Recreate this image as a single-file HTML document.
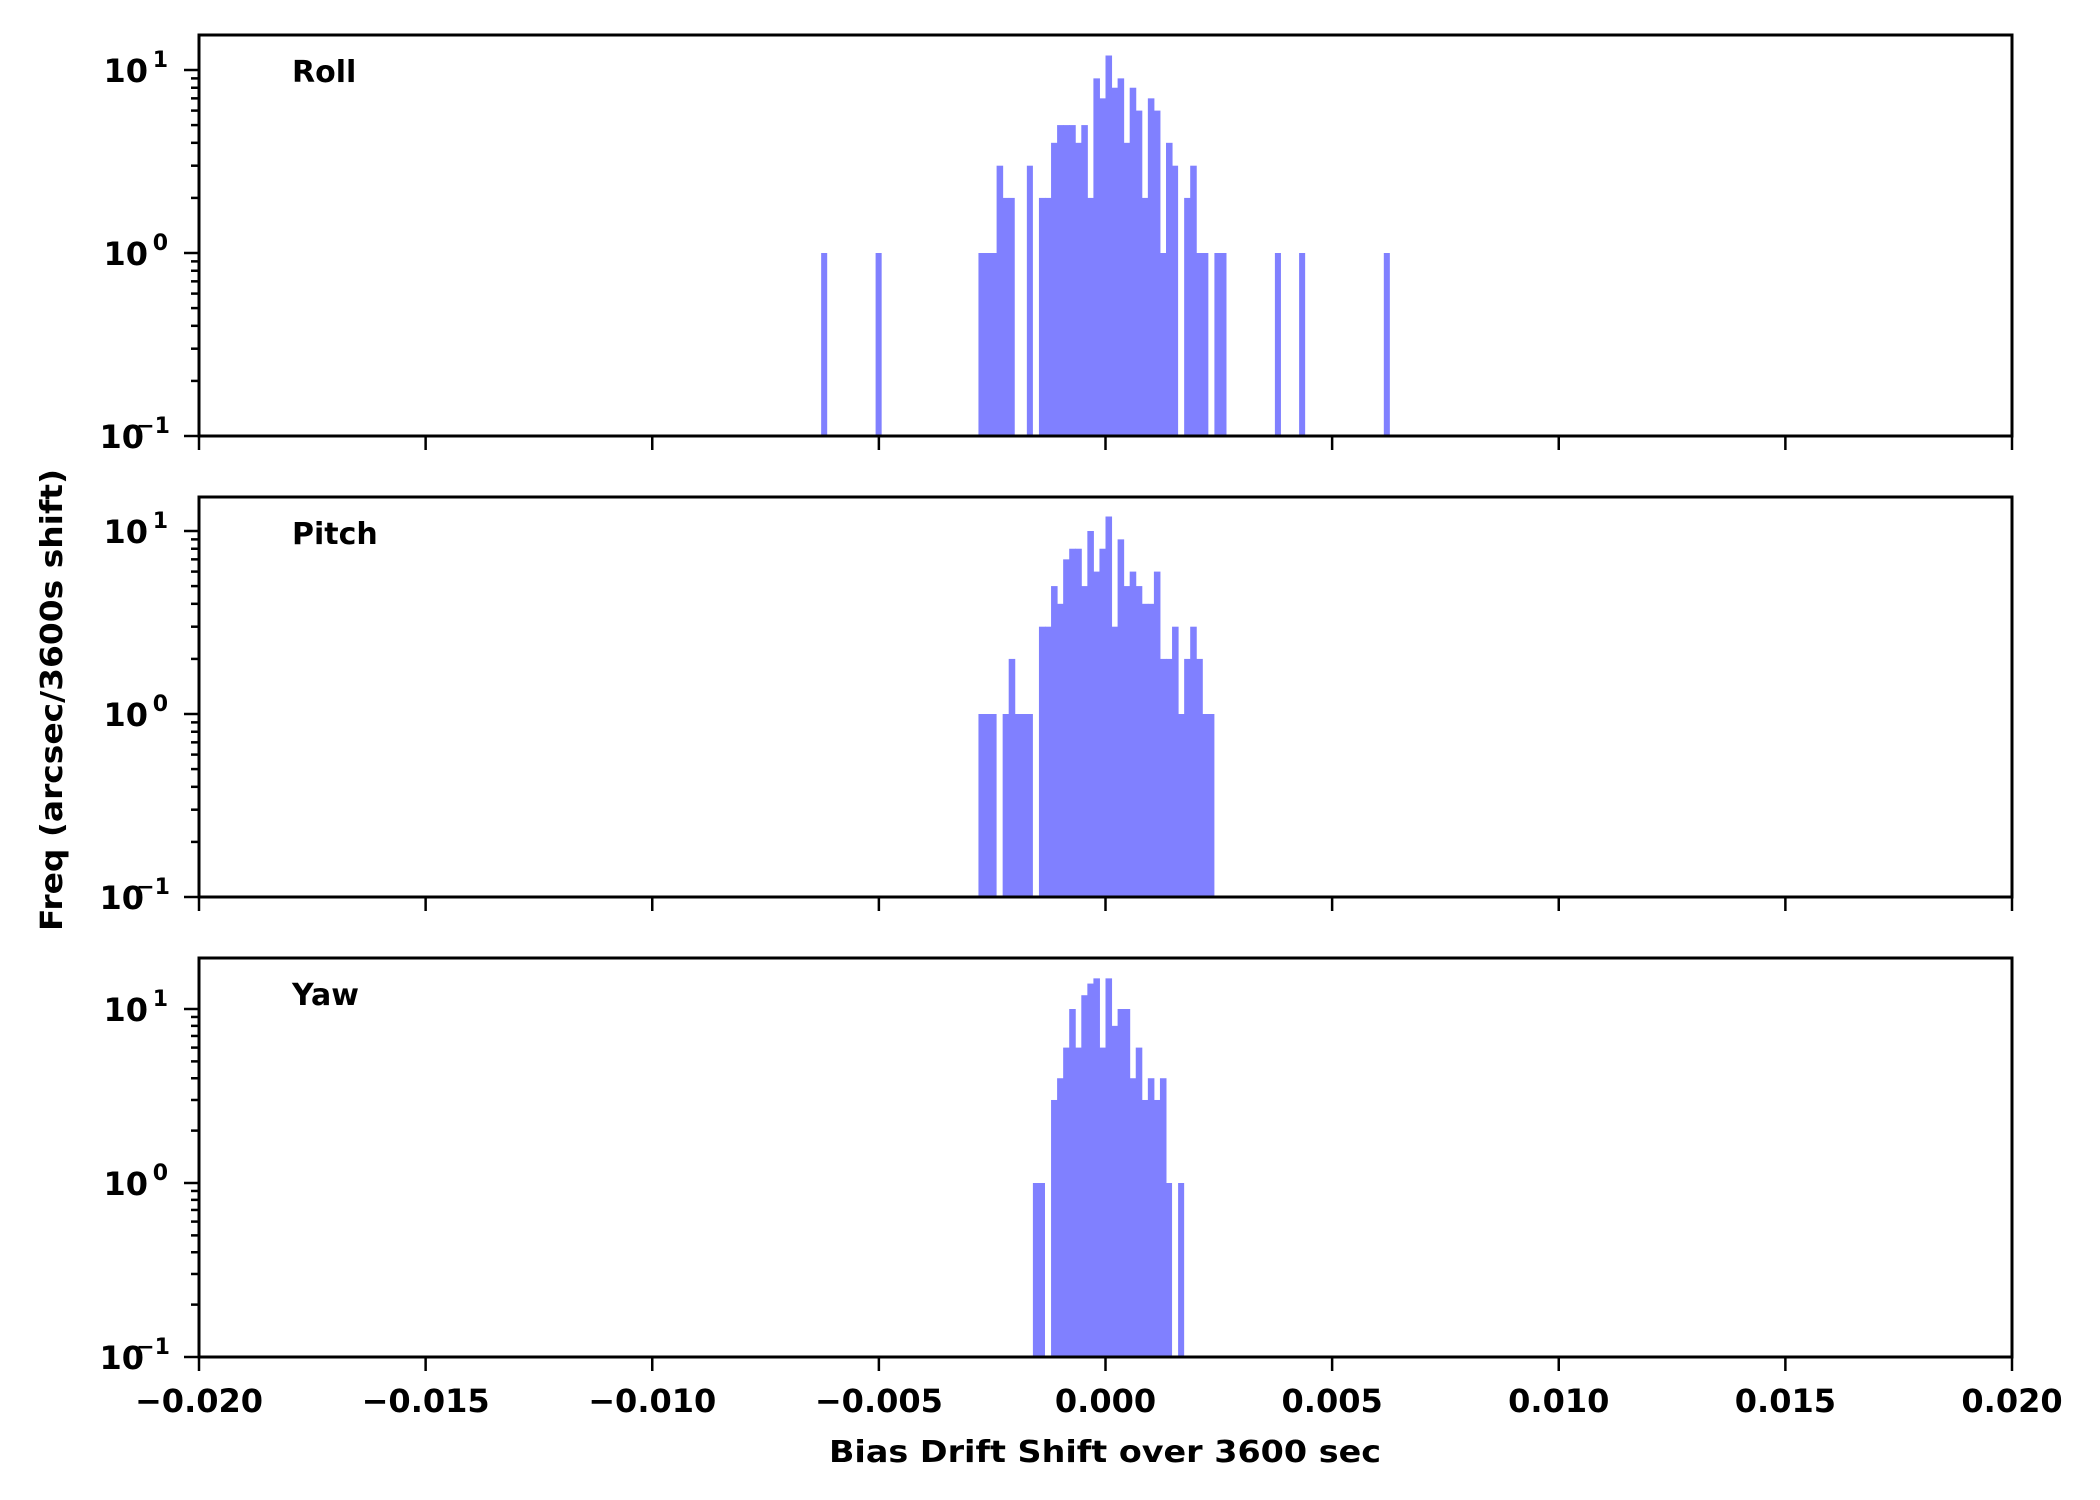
<!DOCTYPE html>
<html><head><meta charset="utf-8">
<style>
html,body{margin:0;padding:0;background:#fff;}
svg{display:block;}
text{font-family:"DejaVu Sans","Liberation Sans",sans-serif;font-weight:bold;fill:#000;}
</style></head>
<body>
<svg id="s" width="2100" height="1500" viewBox="0 0 2100 1500" xmlns="http://www.w3.org/2000/svg">
<rect width="2100" height="1500" fill="#fff"/>
<g id="g"></g>
<text x="1105" y="1462" font-size="30" text-anchor="middle" textLength="552" lengthAdjust="spacingAndGlyphs">Bias Drift Shift over 3600 sec</text>
<text transform="translate(62,700) rotate(-90)" font-size="30" text-anchor="middle" textLength="462" lengthAdjust="spacingAndGlyphs">Freq (arcsec/3600s shift)</text>
</svg>
<script>
var NS="http://www.w3.org/2000/svg",g=document.getElementById('g');
function el(t,a,txt){var e=document.createElementNS(NS,t);for(var k in a)e.setAttribute(k,a[k]);if(txt!==undefined)e.textContent=txt;g.appendChild(e);return e;}
var L=199,R=2012,X0=1105.5,BW=6.05;
var panels=[
 {top:35,bot:436,dec:183,name:"Roll",
  h:{"-47":1,"-38":1,"-21":1,"-20":1,"-19":1,"-18":3,"-17":2,"-16":2,"-13":3,"-11":2,"-10":2,"-9":4,"-8":5,"-7":5,"-6":5,"-5":4,"-4":5,"-3":2,"-2":9,"-1":7,"0":12,"1":8,"2":9,"3":4,"4":8,"5":6,"6":2,"7":7,"8":6,"9":1,"10":4,"11":3,"13":2,"14":3,"15":1,"16":1,"18":1,"19":1,"28":1,"32":1,"46":1}},
 {top:497,bot:897,dec:183,name:"Pitch",
  h:{"-21":1,"-20":1,"-19":1,"-17":1,"-16":2,"-15":1,"-14":1,"-13":1,"-11":3,"-10":3,"-9":5,"-8":4,"-7":7,"-6":8,"-5":8,"-4":5,"-3":10,"-2":6,"-1":8,"0":12,"1":3,"2":9,"3":5,"4":6,"5":5,"6":4,"7":4,"8":6,"9":2,"10":2,"11":3,"12":1,"13":2,"14":3,"15":2,"16":1,"17":1}},
 {top:958,bot:1357,dec:174,name:"Yaw",
  h:{"-12":1,"-11":1,"-9":3,"-8":4,"-7":6,"-6":10,"-5":6,"-4":12,"-3":14,"-2":15,"-1":6,"0":15,"1":8,"2":10,"3":10,"4":4,"5":6,"6":3,"7":4,"8":3,"9":4,"10":1,"12":1}}
];
panels.forEach(function(p,i){
  var y0=p.bot;
  function Y(v){return y0-p.dec*(Math.log10(v)+1);}
  for(var k in p.h){var x=X0+BW*(+k);var yt=Y(p.h[k]);
    var w=BW+(p.h[(+k+1)+""]?0.5:0);
    el('rect',{x:x.toFixed(2),y:yt.toFixed(2),width:w.toFixed(2),height:(y0-yt).toFixed(2),fill:'#8080ff'});}
  for(var d=-1;d<=1;d++){
    for(var m=1;m<10;m++){var v=m*Math.pow(10,d);var yy=Y(v);if(yy<p.top-0.5)break;
      var len=(m==1)?15:8;el('line',{x1:L-len,x2:L,y1:yy,y2:yy,stroke:'#000','stroke-width':2.5});
      if(m==1){
        el('text',{x:(d<0?144:148),y:yy+12,'font-size':32,'text-anchor':'end'},'10');
        el('text',{x:(d<0?170:168),y:yy-3,'font-size':22,'text-anchor':'end'},d<0?'\u22121':String(d));
      }
    }
  }
  for(var j=0;j<=8;j++){var x=L+(R-L)*j/8;
    el('line',{x1:x,x2:x,y1:p.bot,y2:p.bot+14,stroke:'#000','stroke-width':2.5});
    if(i==2){var v=(-0.02+0.005*j).toFixed(3);if(v.charAt(0)=='-')v='\u2212'+v.slice(1);
      el('text',{x:x,y:1412,'font-size':32,'text-anchor':'middle'},v);}
  }
  el('rect',{x:L,y:p.top,width:R-L,height:p.bot-p.top,fill:'none',stroke:'#000','stroke-width':3});
  el('text',{x:292,y:p.top+47,'font-size':30},p.name);
});
</script>
</body></html>
